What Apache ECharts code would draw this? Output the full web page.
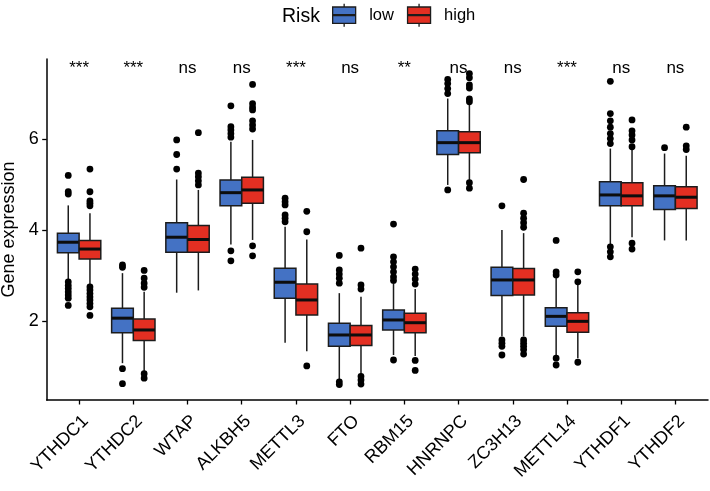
<!DOCTYPE html>
<html><head><meta charset="utf-8">
<script src="https://cdn.jsdelivr.net/npm/echarts@6/dist/echarts.min.js"></script>
<style>html,body{margin:0;padding:0;background:#fff}#c{width:710px;height:491px}</style>
</head><body><div id="c"></div>
<script>
const categories = ['YTHDC1','YTHDC2','WTAP','ALKBH5','METTL3','FTO','RBM15','HNRNPC','ZC3H13','METTL14','YTHDF1','YTHDF2'];
const groups = ['low','high'];
const sigLabels = ['***','***','ns','ns','***','ns','**','ns','ns','***','ns','ns'];
const yTicks = [2,4,6];

// [lower whisker, Q1, median, Q3, upper whisker]
const lowBox = [
  [2.92,3.50,3.73,3.93,4.54],
  [1.07,1.74,2.06,2.28,3.05],
  [2.62,3.51,3.84,4.16,5.11],
  [3.68,4.53,4.82,5.10,5.94],
  [1.52,2.50,2.85,3.16,4.07],
  [0.70,1.44,1.69,1.95,2.61],
  [1.25,1.80,2.02,2.24,2.83],
  [4.99,5.66,5.92,6.18,6.89],
  [1.66,2.56,2.90,3.18,4.00],
  [1.25,1.88,2.10,2.29,2.95],
  [3.69,4.53,4.77,5.06,5.79],
  [3.77,4.45,4.75,4.97,5.68]
];
const highBox = [
  [2.79,3.36,3.58,3.77,4.37],
  [0.89,1.57,1.80,2.04,2.64],
  [2.67,3.51,3.79,4.10,4.88],
  [3.78,4.59,4.88,5.16,5.98],
  [1.33,2.13,2.46,2.81,3.79],
  [0.81,1.46,1.69,1.90,2.53],
  [1.23,1.74,1.96,2.17,2.70],
  [5.10,5.70,5.92,6.16,6.75],
  [1.66,2.57,2.90,3.15,3.93],
  [1.18,1.75,1.99,2.18,2.81],
  [3.84,4.53,4.75,5.04,5.77],
  [3.77,4.47,4.72,4.95,5.63]
];
const lowOutliers = [
  [5.20,4.84,4.79,2.86,2.78,2.71,2.64,2.57,2.50,2.34],
  [3.23,3.18,0.95,0.62],
  [5.98,5.66,5.34],
  [6.73,6.27,6.20,6.12,6.04,3.54,3.32],
  [4.70,4.62,4.55,4.33,4.26,4.18],
  [3.44,3.12,3.03,2.94,2.83,0.66,0.60],
  [4.13,3.41,3.30,3.19,3.08,2.97,2.89,1.14],
  [7.31,7.22,7.11,7.00,4.88],
  [4.53,1.58,1.51,1.44,1.25],
  [3.77,3.08,3.01,1.18,1.03],
  [7.27,6.56,6.40,6.26,6.12,6.01,5.90,3.63,3.52,3.41],
  [5.81]
];
const highOutliers = [
  [5.34,4.84,4.64,4.59,4.53,2.75,2.68,2.60,2.53,2.46,2.38,2.31,2.12],
  [3.11,2.94,2.83,2.74,0.84,0.74],
  [6.14,5.25,5.17,5.08,4.99],
  [7.20,6.78,6.70,6.64,6.40,6.31,6.22,3.65,3.43],
  [4.41,3.96,1.01],
  [3.60,2.79,2.70,0.78,0.70,0.61],
  [3.14,3.03,2.92,2.81,1.13,0.91],
  [7.44,7.35,7.19,7.12,6.88,6.82,5.04,4.92],
  [5.11,4.37,4.26,4.16,4.06,1.58,1.51,1.44,1.37,1.27],
  [3.08,2.86,1.09],
  [6.42,6.18,6.09,5.98,5.83,3.71,3.58],
  [6.26,5.85,5.77]
];
const sigY = 7.55;

const FONT = '"Liberation Sans", Arial, Helvetica, sans-serif';
const BLUE = '#4472C4', RED = '#E32F22', EDGE = '#1c1c1c';
const YMIN = 0.26, YMAX = 7.76;

const boxData = arr => arr.map((b,i) => [i].concat(b));
const outData = arr => { const r=[]; arr.forEach((l,i)=>l.forEach(v=>r.push([i,v]))); return r; };

function boxRender(color, side){
  return function(params, api){
    const ci = api.value(0);
    const bw = api.size([1,0])[0];
    const w = bw*0.4;
    const x = api.coord([ci, 0])[0] + side*bw*0.2;
    const y = k => api.coord([ci, api.value(k)])[1];
    const yMin=y(1), yQ1=y(2), yMed=y(3), yQ3=y(4), yMax=y(5);
    return {type:'group', children:[
      {type:'line', shape:{x1:x,y1:yMax,x2:x,y2:yQ3}, style:{stroke:EDGE,lineWidth:1.5}},
      {type:'line', shape:{x1:x,y1:yQ1,x2:x,y2:yMin}, style:{stroke:EDGE,lineWidth:1.5}},
      {type:'rect', shape:{x:x-w/2,y:yQ3,width:w,height:yQ1-yQ3}, style:{fill:color,stroke:EDGE,lineWidth:1.5}},
      {type:'line', shape:{x1:x-w/2,y1:yMed,x2:x+w/2,y2:yMed}, style:{stroke:'#0d0d0d',lineWidth:3}}
    ]};
  };
}
function ptRender(side){
  return function(params, api){
    const ci = api.value(0);
    const bw = api.size([1,0])[0];
    const p = api.coord([ci, api.value(1)]);
    return {type:'circle', shape:{cx:p[0]+side*bw*0.2, cy:p[1], r:3.4}, style:{fill:'#000'}};
  };
}
function sigRender(params, api){
  const p = api.coord([api.value(0), api.value(1)]);
  return {type:'text', x:p[0], y:p[1], style:{text:sigLabels[params.dataIndex], fontSize:17, fontFamily:FONT, fill:'#000', align:'center', verticalAlign:'middle'}};
}

const legendIcon = 'path://M12,0 L12,3.5 M0,3.5 L24,3.5 L24,20.5 L0,20.5 Z M0,11.5 L24,11.5 L24,12.5 L0,12.5 Z M12,20.5 L12,24';

const option = {
  backgroundColor:'#fff',
  animation:false,
  title:{text:'Risk', left:282, top:7, padding:0, textStyle:{fontSize:19.5, fontWeight:'normal', color:'#000', fontFamily:FONT}},
  legend:{
    data:[{name:groups[0], icon:legendIcon},{name:groups[1], icon:legendIcon}],
    left:332, top:3, padding:0, itemWidth:24, itemHeight:23, itemGap:13,
    itemStyle:{borderColor:EDGE, borderWidth:1.3},
    textStyle:{fontSize:16.5, color:'#000', fontFamily:FONT, padding:[0,0,0,8]},
    selectedMode:false
  },
  grid:[
    {left:52, right:7.5, top:59, bottom:91, outerBoundsMode:'none', containLabel:false},
    {left:46.7, right:2, top:59, bottom:91, outerBoundsMode:'none', containLabel:false}
  ],
  xAxis:[
    {type:'category', gridIndex:0, data:categories, boundaryGap:true,
     axisLine:{show:false},
     axisTick:{show:true, alignWithLabel:true, length:4.5, lineStyle:{color:'#000', width:1.3}},
     axisLabel:{rotate:45, align:'right', verticalAlign:'top', fontSize:18, color:'#000', fontFamily:FONT, margin:12, interval:0},
     splitLine:{show:false}},
    {type:'value', gridIndex:1, min:0, max:1,
     axisLine:{show:true, lineStyle:{color:'#000', width:1.5}},
     axisTick:{show:false}, axisLabel:{show:false}, splitLine:{show:false}}
  ],
  yAxis:[
    {type:'value', gridIndex:0, min:YMIN, max:YMAX, show:false, splitLine:{show:false}},
    {type:'value', gridIndex:1, min:YMIN, max:YMAX,
     name:'Gene expression', nameLocation:'middle', nameGap:21,
     nameTextStyle:{fontSize:18, color:'#000', fontFamily:FONT},
     axisLine:{show:true, lineStyle:{color:'#000', width:1.5}},
     axisTick:{show:true, length:4.5, customValues:yTicks, lineStyle:{color:'#000', width:1.3}},
     axisLabel:{show:true, customValues:yTicks, fontSize:18, color:'#000', fontFamily:FONT, margin:8},
     splitLine:{show:false}}
  ],
  series:[
    {name:groups[0], type:'custom', xAxisIndex:0, yAxisIndex:0, itemStyle:{color:BLUE},
     renderItem:boxRender(BLUE,-1), encode:{x:0, y:[1,2,3,4,5]}, data:boxData(lowBox), z:2},
    {name:groups[1], type:'custom', xAxisIndex:0, yAxisIndex:0, itemStyle:{color:RED},
     renderItem:boxRender(RED,1), encode:{x:0, y:[1,2,3,4,5]}, data:boxData(highBox), z:2},
    {name:'lowOut', type:'custom', xAxisIndex:0, yAxisIndex:0, renderItem:ptRender(-1), encode:{x:0,y:1}, data:outData(lowOutliers), z:3},
    {name:'highOut', type:'custom', xAxisIndex:0, yAxisIndex:0, renderItem:ptRender(1), encode:{x:0,y:1}, data:outData(highOutliers), z:3},
    {name:'sig', type:'custom', xAxisIndex:0, yAxisIndex:0, renderItem:sigRender, encode:{x:0,y:1},
     data:sigLabels.map((s,i)=>[i, sigY]), z:4}
  ]
};
const chart = echarts.init(document.getElementById('c'), null, {renderer:'canvas'});
chart.setOption(option);
</script>
</body></html>
